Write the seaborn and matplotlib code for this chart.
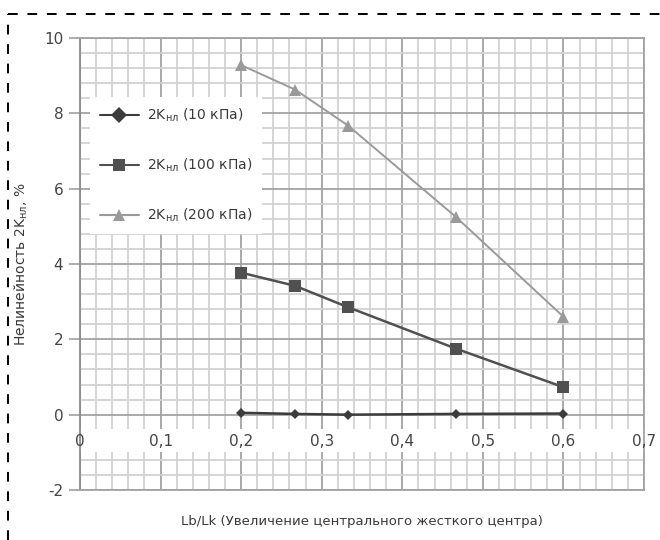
import numpy as np
import pandas as pd
import seaborn as sns
import matplotlib
matplotlib.use("Agg")
import matplotlib.pyplot as plt
from matplotlib.ticker import MultipleLocator, FixedLocator, FuncFormatter
from matplotlib.lines import Line2D

# Ratio of central rigid centre length to membrane length
lb_lk = [0.2, 0.267, 0.333, 0.467, 0.6]

# Nonlinearity 2K_нл, % at three pressures
k_10kpa = [0.05, 0.02, 0.0, 0.02, 0.03]
k_100kpa = [3.77, 3.42, 2.85, 1.75, 0.73]
k_200kpa = [9.28, 8.63, 7.67, 5.24, 2.60]

x_ticks = [0.0, 0.1, 0.2, 0.3, 0.4, 0.5, 0.6, 0.7]
y_ticks = [-2, 0, 2, 4, 6, 8, 10]

series_labels = ["2K$_{\\mathregular{нл}}$ (10 кПа)",
                 "2K$_{\\mathregular{нл}}$ (100 кПа)",
                 "2K$_{\\mathregular{нл}}$ (200 кПа)"]

df = pd.DataFrame({
    "x": lb_lk * 3,
    "y": k_10kpa + k_100kpa + k_200kpa,
    "series": [series_labels[0]] * 5 + [series_labels[1]] * 5 + [series_labels[2]] * 5,
})

sns.set_theme(style="white")
plt.rcParams["font.family"] = ["DejaVu Sans"]

fig = plt.figure(figsize=(6.6, 5.4), dpi=100)
ax = fig.add_axes([80 / 660, 50 / 540, 564 / 660, 452 / 540])

palette = {series_labels[0]: "#3c3c3c", series_labels[1]: "#505050", series_labels[2]: "#9a9a9a"}
markers = {series_labels[0]: "D", series_labels[1]: "s", series_labels[2]: "^"}
widths = {series_labels[0]: 1.8, series_labels[1]: 1.8, series_labels[2]: 1.4}

sns.lineplot(data=df, x="x", y="y", hue="series", style="series",
             markers=markers, dashes=False, palette=palette, ax=ax,
             markersize=8, markeredgewidth=0, legend=True, zorder=3)

for line, lab in zip(ax.lines, series_labels):
    line.set_linewidth(widths[lab])
ax.lines[0].set_markersize(5.5)
ax.lines[1].set_markersize(9)
ax.lines[2].set_markersize(9)

ax.set_xlim(x_ticks[0], x_ticks[-1])
ax.set_ylim(y_ticks[0], y_ticks[-1])

ax.xaxis.set_major_locator(FixedLocator(x_ticks))
ax.xaxis.set_minor_locator(MultipleLocator(0.02))
ax.yaxis.set_major_locator(FixedLocator(y_ticks))
ax.yaxis.set_minor_locator(MultipleLocator(0.4))

ax.grid(which="major", color="#a2a2a2", linewidth=1.3)
ax.grid(which="minor", color="#d2d2d2", linewidth=1.3)
ax.set_axisbelow(True)

# blank strip that carries the x tick labels
ax.axhspan(-1.0, -0.38, color="white", zorder=1.2, linewidth=0)

for side in ["left", "right", "top", "bottom"]:
    ax.spines[side].set_color("#a2a2a2")
    ax.spines[side].set_linewidth(1.3)
ax.spines["left"].set_color("#8a8a8a")

ax.yaxis.set_major_formatter(FuncFormatter(lambda v, _: f"{v:g}"))
ax.tick_params(axis="y", which="major", left=True, length=8, width=1.2,
               color="#a0a0a0", labelsize=11, labelcolor="#444444", pad=4)
ax.tick_params(axis="y", which="minor", left=False)
ax.tick_params(axis="x", which="both", bottom=False, labelbottom=False)

# x tick labels sit on the zero line
loc0 = (0 - y_ticks[0]) / (y_ticks[-1] - y_ticks[0])
sec = ax.secondary_xaxis(loc0)
sec.set_zorder(4)
sec.xaxis.set_major_locator(FixedLocator(x_ticks))
sec.xaxis.set_major_formatter(FuncFormatter(
    lambda v, _: "0" if abs(v) < 1e-9 else f"{v:.1f}".replace(".", ",")))
sec.tick_params(axis="x", length=0, labelsize=11, labelcolor="#444444", pad=14)
sec.spines["bottom"].set_visible(False)

ax.set_xlabel("Lb/Lk (Увеличение центрального жесткого центра)",
              fontsize=9.5, color="#3a3a3a", labelpad=18)
ax.set_ylabel("Нелинейность 2K$_{\\mathregular{нл}}$, %",
              fontsize=10, color="#3a3a3a", labelpad=10)

handles, labels = ax.get_legend_handles_labels()
leg = ax.legend(handles, labels, loc="upper left",
                bbox_to_anchor=(0.018, 0.869), frameon=True,
                facecolor="white", edgecolor="white", framealpha=1,
                fontsize=10, labelcolor="#3a3a3a", handlelength=2.8,
                labelspacing=2.35, borderpad=0.7, handletextpad=0.6,
                borderaxespad=0, fancybox=False)
leg.get_frame().set_linewidth(0)
leg.set_zorder(5)

# dashed frame around the figure
fig.add_artist(Line2D([8 / 660, 1.0], [1 - 14 / 540, 1 - 14 / 540],
                      transform=fig.transFigure, color="black", lw=1.4,
                      linestyle=(0, (5, 5))))
fig.add_artist(Line2D([8 / 660, 8 / 660], [0.0, 1 - 14 / 540],
                      transform=fig.transFigure, color="black", lw=1.4,
                      linestyle=(0, (5, 5))))

fig.savefig("out.png", dpi=100, facecolor="white")
